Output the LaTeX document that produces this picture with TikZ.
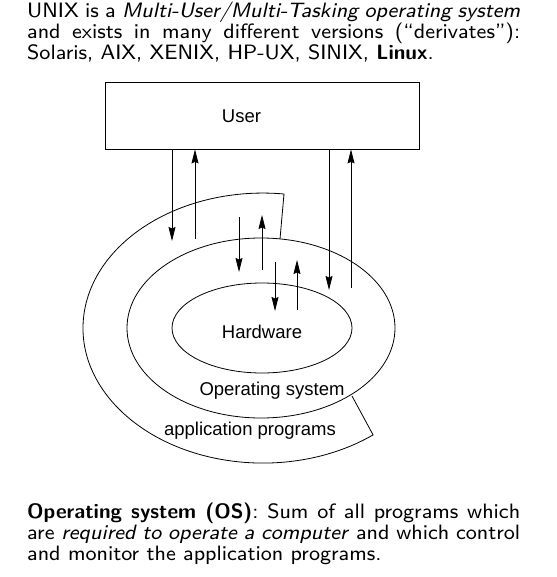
\documentclass[tikz,border=0pt]{standalone}
\usepackage{fontspec}
\usepackage{graphicx}
\newfontfamily\labelfont{Liberation Sans}
\usetikzlibrary{shapes.geometric,arrows.meta}
\newcommand{\txtscale}{2.6}
\newcommand{\fullline}[1]{\scalebox{\txtscale}{\fontsize{8bp}{10bp}\sffamily\makebox[\dimexpr 493bp/26*10\relax][s]{#1}}}
\newcommand{\shortline}[1]{\scalebox{\txtscale}{\fontsize{8bp}{10bp}\sffamily #1}}
\begin{document}
\begin{tikzpicture}[x=1bp,y=-1bp,
  line/.style={line width=0.8bp},
  arr/.style={line width=0.8bp,-{Stealth[length=14bp,width=7bp,inset=1.5bp]}},
  lbl/.style={inner sep=0pt,anchor=base,font=\labelfont\fontsize{18.5bp}{22bp}\selectfont},
  txt/.style={inner sep=0pt,anchor=base west},
  ring/.style={draw,line width=0.8bp,ellipse,inner sep=0pt}]
\useasboundingbox (0,0) rectangle (557,577);
% text above
\node[txt] (t1) at (27,18) {\fullline{UNIX is a \textit{Multi-User/Multi-Tasking operating system}}};
\node[txt] (t2) at (27,39) {\fullline{and exists in many different versions (``derivates''):}};
\node[txt] (t3) at (27,60) {\shortline{Solaris, AIX, XENIX, HP-UX, SINIX, \textbf{Linux}.}};
% user box
\node[draw,line width=0.8bp,minimum width=314bp,minimum height=67bp,inner sep=0pt] (user) at (262,115.5) {};
\node[lbl] (userlbl) at (241.5,123) {User};
% rings
\node[ring,minimum width=268bp,minimum height=180bp] (os) at (261,328) {};
\node[ring,minimum width=180bp,minimum height=90bp] (hw) at (262,328) {};
\coordinate (s1) at (280,239);
\coordinate (s2) at (284,194);
\coordinate (s3) at (352,396);
\draw[line] (s1) -- (s2) arc[start angle=83.3,end angle=307.7,x radius=180bp,y radius=135bp] -- (s3);
\node[lbl] (hwlbl) at (262,338) {Hardware};
\node[lbl] (oslbl) at (272,395) {Operating system};
\node[lbl] (applbl) at (250,435) {application programs};
% arrows
\coordinate (a1) at (172,241);
\coordinate (a2) at (195,239);
\coordinate (a3s) at (239,217);
\coordinate (a3e) at (239,272);
\coordinate (a4s) at (262,270);
\coordinate (a4e) at (262,215);
\coordinate (a5s) at (275,262);
\coordinate (a5e) at (275,311);
\coordinate (a6s) at (297,310);
\coordinate (a6e) at (297,260);
\coordinate (a7) at (329,290);
\coordinate (a8) at (351,288);
\draw[arr] (user.south -| a1) -- (a1);
\draw[arr] (a2) -- (user.south -| a2);
\draw[arr] (a3s) -- (a3e);
\draw[arr] (a4s) -- (a4e);
\draw[arr] (a5s) -- (a5e);
\draw[arr] (a6s) -- (a6e);
\draw[arr] (user.south -| a7) -- (a7);
\draw[arr] (a8) -- (user.south -| a8);
% text below
\node[txt] (b1) at (27,518) {\fullline{\textbf{Operating system (OS)}: Sum of all programs which}};
\node[txt] (b2) at (27,539) {\fullline{are \textit{required to operate a computer} and which control}};
\node[txt] (b3) at (27,560) {\shortline{and monitor the application programs.}};
\end{tikzpicture}
\end{document}
